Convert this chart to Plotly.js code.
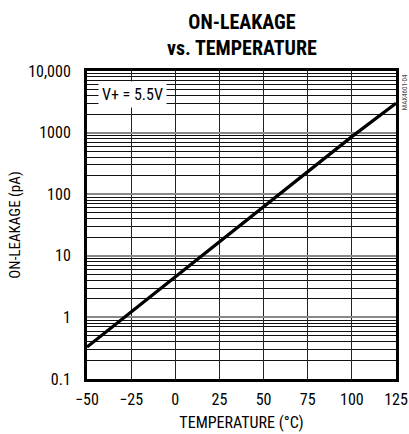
<!DOCTYPE html>
<html>
<head>
<meta charset="utf-8">
<script src="https://cdn.plot.ly/plotly-3.0.1.min.js"></script>
<style>body{margin:0;background:#fff}#chart{width:409px;height:434px}</style>
</head>
<body>
<div id="chart"></div>
<script>
const temperature = [-50, -25, 0, 25, 50, 75, 100, 125];
const onLeakage = [0.33, 1.22, 4.6, 17, 63, 235, 860, 3000];
const xTicks = [-50, -25, 0, 25, 50, 75, 100, 125];
const yTickVals = [0.1, 1, 10, 100, 1000, 10000];
const yTickText = ['0.1', '1', '10', '100', '1000', '10,000'];

const FONT = '"Liberation Sans Narrow", "Roboto Condensed", "Liberation Sans", Arial, sans-serif';

const trace = {
  x: temperature, y: onLeakage, mode: 'lines', type: 'scatter',
  line: {color: '#000', width: 3.2}, hoverinfo: 'skip'
};

const layout = {
  width: 409, height: 434,
  margin: {l: 87, r: 13, t: 71, b: 55},
  paper_bgcolor: '#fff', plot_bgcolor: '#fff',
  showlegend: false,
  font: {family: FONT, color: '#000', size: 16},
  xaxis: {
    range: [-50, 125], tickvals: xTicks,
    ticks: 'outside', ticklen: 4, tickcolor: 'rgba(0,0,0,0)',
    showgrid: true, gridcolor: '#222', gridwidth: 1,
    showline: true, linecolor: '#000', linewidth: 3, mirror: true,
    zeroline: false, tickfont: {size: 16},
    title: {text: 'TEMPERATURE (°C)', font: {size: 16}, standoff: 9}
  },
  yaxis: {
    type: 'log', range: [-1, 4], tickvals: yTickVals, ticktext: yTickText,
    ticks: 'outside', ticklen: 10, tickcolor: 'rgba(0,0,0,0)',
    showgrid: true, gridcolor: '#888', gridwidth: 2,
    minor: {dtick: 'D1', showgrid: true, gridcolor: '#111', gridwidth: 1, ticks: ''},
    showline: true, linecolor: '#000', linewidth: 3, mirror: true,
    zeroline: false, tickfont: {size: 16},
    title: {text: 'ON-LEAKAGE (pA)', font: {size: 15}, standoff: 4}
  },
  annotations: [
    {text: '<b>ON-LEAKAGE<br>vs. TEMPERATURE</b>', xref: 'paper', yref: 'paper',
     x: 0.5, y: 1.118, xanchor: 'center', yanchor: 'middle', showarrow: false,
     font: {size: 20, color: '#000'}},
    {text: 'V+ = 5.5V', xref: 'paper', yref: 'paper', x: 0.035, y: 0.925,
     xanchor: 'left', yanchor: 'middle', showarrow: false,
     bgcolor: '#fff', borderpad: 3, font: {size: 16}},
    {text: 'MAX4601-04', xref: 'paper', yref: 'paper', x: 1.028, y: 0.93,
     xanchor: 'center', yanchor: 'middle', textangle: -90, showarrow: false,
     font: {size: 7, color: '#444'}}
  ]
};

Plotly.newPlot('chart', [trace], layout, {staticPlot: true, displayModeBar: false});
</script>
</body>
</html>
